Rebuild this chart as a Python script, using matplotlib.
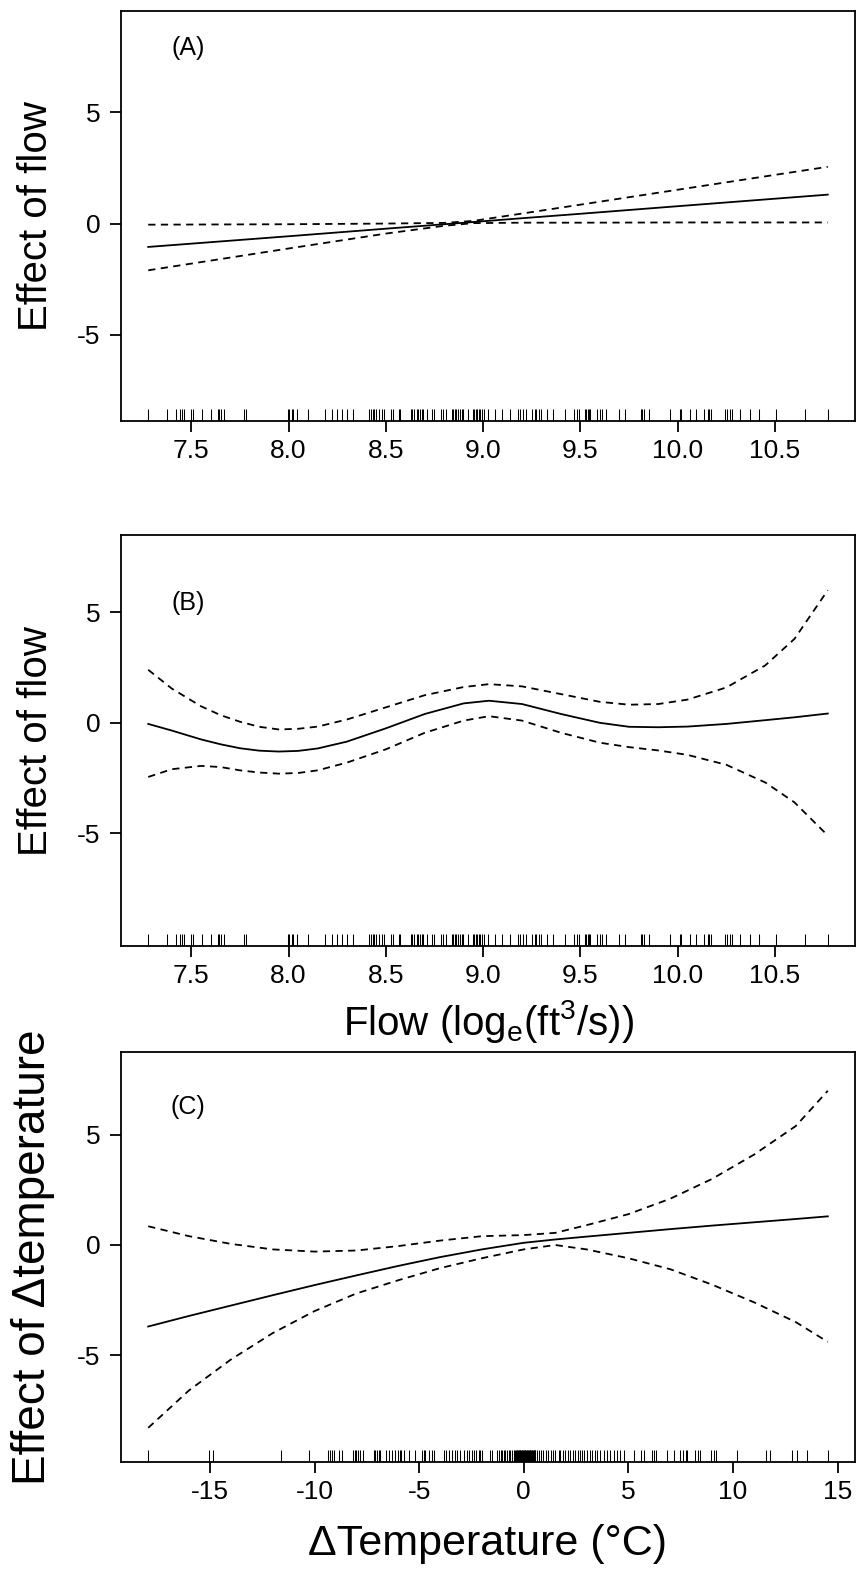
import matplotlib
matplotlib.use('Agg')
import matplotlib.pyplot as plt
import numpy as np

plt.rcParams['font.family'] = ['Liberation Sans', 'DejaVu Sans']
plt.rcParams['mathtext.fontset'] = 'custom'
plt.rcParams['mathtext.rm'] = 'Liberation Sans'
plt.rcParams['mathtext.it'] = 'Liberation Sans:italic'
plt.rcParams['axes.unicode_minus'] = False

# ---- data ----
flow_rug = [7.279, 7.373, 7.421, 7.443, 7.452, 7.462, 7.497, 7.509, 7.557, 7.604,
            7.635, 7.644, 7.652, 7.666, 7.771, 7.779, 7.995, 8.002, 8.016, 8.024,
            8.043, 8.098, 8.187, 8.221, 8.247, 8.273, 8.298, 8.332, 8.413, 8.423,
            8.432, 8.440, 8.452, 8.466, 8.478, 8.492, 8.526, 8.538, 8.567, 8.574,
            8.629, 8.637, 8.646, 8.658, 8.666, 8.675, 8.684, 8.692, 8.709, 8.738,
            8.749, 8.783, 8.795, 8.807, 8.838, 8.846, 8.855, 8.863, 8.872, 8.881,
            8.889, 8.898, 8.923, 8.949, 8.952, 8.961, 8.969, 8.978, 8.986, 8.995,
            9.003, 9.024, 9.063, 9.098, 9.140, 9.178, 9.192, 9.206, 9.218, 9.252,
            9.264, 9.274, 9.286, 9.295, 9.329, 9.360, 9.423, 9.469, 9.480, 9.492,
            9.526, 9.531, 9.538, 9.543, 9.548, 9.586, 9.603, 9.613, 9.629, 9.697,
            9.731, 9.809, 9.817, 9.829, 9.851, 9.959, 10.011, 10.017, 10.062, 10.096,
            10.134, 10.155, 10.163, 10.172, 10.245, 10.254, 10.268, 10.280, 10.322,
            10.370, 10.416, 10.507, 10.656, 10.771]

temp_rug = [-17.95, -15.06, -14.87, -11.60, -10.28, -9.37, -9.27, -9.16, -9.08, -8.81,
            -8.71, -8.17, -8.08, -8.01, -7.92, -7.81, -7.70, -7.17, -7.09, -7.01,
            -6.93, -6.85, -6.58, -6.42, -6.29, -6.17, -6.02, -5.93, -5.85, -5.74,
            -5.50, -5.22, -4.86, -4.78, -4.70, -4.54, -4.41, -4.30, -3.82, -3.71,
            -3.59, -3.42, -3.30, -3.18, -3.03, -2.87, -2.71, -2.60, -2.47, -2.36,
            -2.26, -2.16, -2.07, -1.98, -1.62, -1.51, -1.27, -1.19, -1.11, -1.04,
            -0.96, -0.88, -0.80, -0.72, -0.64, -0.56, -0.48, -0.40, -0.37, -0.34,
            -0.31, -0.28, -0.25, -0.22, -0.19, -0.16, -0.13, -0.10, -0.07, -0.04,
            -0.01, 0.02, 0.05, 0.08, 0.11, 0.14, 0.17, 0.20, 0.23, 0.26, 0.29, 0.32,
            0.35, 0.38, 0.41, 0.44, 0.47, 0.50, 0.53, 0.56, 0.64, 0.72, 0.80, 0.93,
            1.04, 1.15, 1.28, 1.40, 1.51, 1.67, 1.75, 1.88, 1.99, 2.10, 2.23, 2.36,
            2.47, 2.58, 2.68, 2.79, 2.90, 3.03, 3.16, 3.27, 3.38, 3.51, 3.63, 3.82,
            3.98, 4.14, 4.30, 4.46, 4.62, 4.78, 5.26, 5.58, 5.74, 6.13, 6.24, 6.34,
            6.85, 7.20, 7.49, 7.62, 7.73, 7.81, 8.20, 8.31, 8.41, 8.96, 9.08, 9.21,
            10.20, 11.60, 11.79, 12.83, 13.07, 13.55, 14.53]

# (A) linear flow term
a_x = [7.279, 8.0, 8.5, 8.8, 8.95, 9.2, 9.5, 10.0, 10.771]
a_fit = [-1.05, -0.57, -0.23, -0.03, 0.07, 0.24, 0.44, 0.78, 1.30]
a_upper = [-0.05, -0.03, 0.00, 0.03, 0.12, 0.45, 0.85, 1.52, 2.55]
a_lower = [-2.10, -1.12, -0.45, -0.10, 0.02, 0.04, 0.04, 0.05, 0.05]

# (B) smooth flow term
b_x = [7.279, 7.4, 7.55, 7.65, 7.75, 7.85, 7.95, 8.05, 8.15, 8.3, 8.5, 8.7, 8.9,
       9.03, 9.2, 9.4, 9.6, 9.75, 9.9, 10.05, 10.25, 10.45, 10.6, 10.771]
b_fit = [-0.05, -0.35, -0.75, -0.97, -1.15, -1.26, -1.30, -1.27, -1.16, -0.85, -0.25,
         0.40, 0.88, 1.00, 0.85, 0.40, 0.00, -0.18, -0.20, -0.17, -0.05, 0.12, 0.25, 0.42]
b_upper = [2.40, 1.55, 0.75, 0.35, 0.05, -0.18, -0.30, -0.27, -0.17, 0.15, 0.70,
           1.25, 1.62, 1.75, 1.65, 1.30, 0.95, 0.82, 0.85, 1.05, 1.60, 2.60, 3.80, 6.00]
b_lower = [-2.45, -2.10, -1.95, -2.00, -2.15, -2.25, -2.30, -2.27, -2.15, -1.80, -1.20,
           -0.45, 0.10, 0.30, 0.10, -0.45, -0.90, -1.10, -1.25, -1.45, -1.90, -2.70,
           -3.60, -5.10]

# (C) smooth delta-temperature term
c_x = [-17.95, -16, -14, -12, -10, -8, -6, -4, -2, 0, 1.5, 3, 5, 7, 9, 11, 13, 14.53]
c_fit = [-3.70, -3.22, -2.75, -2.28, -1.82, -1.38, -0.95, -0.55, -0.20, 0.10, 0.25, 0.38,
         0.55, 0.72, 0.88, 1.03, 1.18, 1.30]
c_upper = [0.85, 0.40, 0.05, -0.20, -0.30, -0.25, -0.05, 0.20, 0.40, 0.45, 0.55, 0.90,
           1.40, 2.10, 3.00, 4.10, 5.40, 7.00]
c_lower = [-8.30, -6.60, -5.20, -4.00, -3.00, -2.20, -1.60, -1.05, -0.60, -0.20, 0.00, -0.20,
           -0.60, -1.10, -1.80, -2.60, -3.50, -4.40]

flow_ticks = [7.5, 8.0, 8.5, 9.0, 9.5, 10.0, 10.5]
flow_ticklabels = ['7.5', '8.0', '8.5', '9.0', '9.5', '10.0', '10.5']
temp_ticks = [-15, -10, -5, 0, 5, 10, 15]
y_ticks = [-5, 0, 5]


def setup_axis(ax, xlim, ylim, xticks, xticklabels):
    ax.set_xlim(*xlim)
    ax.set_ylim(*ylim)
    ax.set_xticks(xticks)
    ax.set_xticklabels(xticklabels)
    ax.set_yticks(y_ticks)
    ax.set_yticklabels([str(v) for v in y_ticks])
    for s in ax.spines.values():
        s.set_linewidth(1.3)
    ax.tick_params(axis='x', length=8, width=1.3, labelsize=19, pad=5)
    ax.tick_params(axis='y', length=8, width=1.3, labelsize=19, pad=7)


def draw_rug(ax, values):
    ax.vlines(values, 0, 0.03, transform=ax.get_xaxis_transform(),
              colors='black', linewidth=0.75)


def draw_term(ax, x, fit, upper, lower):
    ax.plot(x, fit, color='black', linewidth=1.3)
    ax.plot(x, upper, color='black', linewidth=1.3, linestyle=(0, (4, 3)))
    ax.plot(x, lower, color='black', linewidth=1.3, linestyle=(0, (4, 3)))


def set_ylab(ax, text, size=29, xpos=-0.116):
    ax.set_ylabel(text, fontsize=size)
    ax.yaxis.set_label_coords(xpos, 0.5)
    ax.yaxis.label.set_verticalalignment('center')


fig = plt.figure(figsize=(8.57, 15.73), dpi=100)
left, width = 121 / 857, 734 / 857

# ---- panel A ----
axA = fig.add_axes([left, 1 - 421 / 1573, width, 410 / 1573])
setup_axis(axA, (7.139, 10.911), (-8.87, 9.55), flow_ticks, flow_ticklabels)
draw_term(axA, a_x, a_fit, a_upper, a_lower)
draw_rug(axA, flow_rug)
axA.text(0.091, 0.91, '(A)', transform=axA.transAxes, fontsize=18,
         ha='center', va='center')
set_ylab(axA, 'Effect of flow')

# ---- panel B ----
axB = fig.add_axes([left, 1 - 946 / 1573, width, 411 / 1573])
setup_axis(axB, (7.139, 10.911), (-10.1, 8.5), flow_ticks, flow_ticklabels)
draw_term(axB, b_x, b_fit, b_upper, b_lower)
draw_rug(axB, flow_rug)
axB.text(0.091, 0.834, '(B)', transform=axB.transAxes, fontsize=18,
         ha='center', va='center')
set_ylab(axB, 'Effect of flow')
axB.set_xlabel(r'Flow (log$_{\rm e}$(ft$^{\rm 3}$/s))', fontsize=29)
axB.xaxis.set_label_coords(0.5, -0.183)
axB.xaxis.label.set_verticalalignment('center')

# ---- panel C ----
axC = fig.add_axes([left, 1 - 1462 / 1573, width, 410 / 1573])
setup_axis(axC, (-19.25, 15.83), (-9.85, 8.76), temp_ticks, [str(v) for v in temp_ticks])
draw_term(axC, c_x, c_fit, c_upper, c_lower)
draw_rug(axC, temp_rug)
axC.text(0.091, 0.865, '(C)', transform=axC.transAxes, fontsize=18,
         ha='center', va='center')
set_ylab(axC, 'Effect of \u0394temperature', size=33, xpos=-0.12)
axC.set_xlabel('\u0394Temperature (\u00b0C)', fontsize=31)
axC.xaxis.set_label_coords(0.5, -0.2)
axC.xaxis.label.set_verticalalignment('center')

fig.savefig('out.png', dpi=100)
